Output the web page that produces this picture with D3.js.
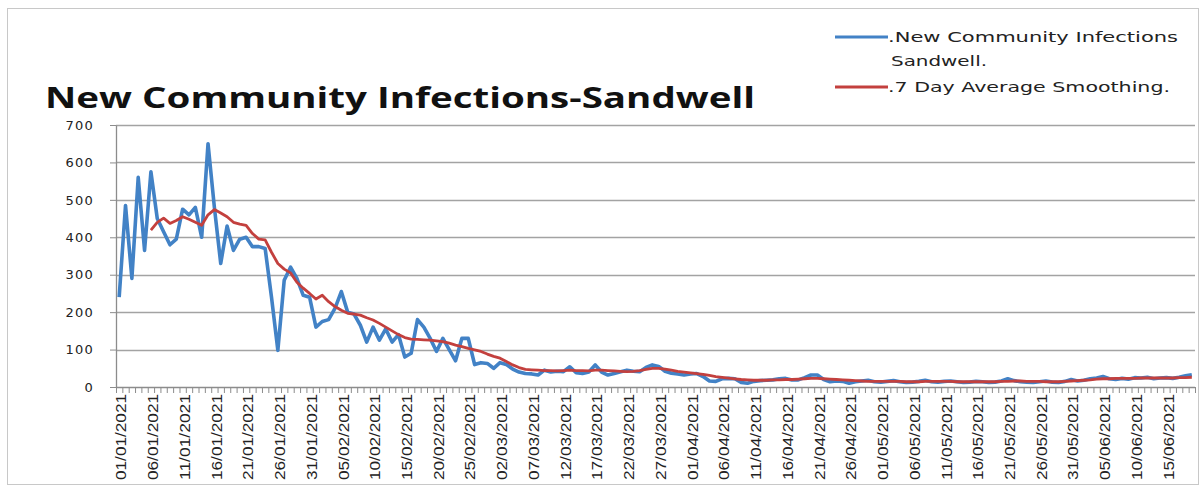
<!DOCTYPE html>
<html>
<head>
<meta charset="utf-8">
<script src="https://cdn.jsdelivr.net/npm/d3@7"></script>
<style>
  html, body { margin: 0; padding: 0; background: #fff; }
  svg { display: block; }
</style>
</head>
<body>
<svg id="chart" width="1202" height="486"></svg>
<script>
// ---------- DATA ----------
const startDate = "2021-01-01";
const dayCount = 170;
const title = "New Community Infections-Sandwell";
const seriesNames = [".New Community Infections", "Sandwell.", ".7 Day Average Smoothing."];
const yTicks = [0, 100, 200, 300, 400, 500, 600, 700];

const dailyInfections = [
  240,485,290,560,365,575,450,415,380,395,
  475,460,480,400,650,480,330,430,365,395,
  400,375,375,370,240,98,285,320,290,245,
  240,160,175,180,210,255,200,195,165,120,
  160,125,155,120,140,80,90,180,160,130,
  95,130,100,70,130,130,60,65,63,50,
  65,60,48,40,36,35,32,45,40,42,
  41,54,38,36,40,59,40,32,36,41,
  45,42,41,52,59,55,42,37,35,32,
  35,36,28,16,15,22,23,22,12,10,
  15,17,18,19,22,23,19,19,25,32,
  32,20,14,16,15,10,14,16,18,14,
  13,15,17,14,12,13,15,18,14,13,
  15,16,14,12,13,15,14,12,13,16,
  22,17,14,13,12,14,16,13,12,15,
  20,16,18,22,24,28,22,20,23,21,
  25,24,26,22,24,25,23,26,30,33
];

const sevenDayAverage = [
  null,null,null,null,null,419,440,451,437,445,
  455,448,440,432,460,474,465,455,440,435,
  432,410,395,393,360,330,315,305,280,264,
  250,235,245,228,215,205,197,195,192,185,
  179,170,160,150,140,132,128,127,126,125,
  123,121,117,112,108,103,99,95,88,82,
  77,68,59,52,47,46,45,44,44,43,
  44,45,44,44,43,45,45,44,43,42,
  41,42,44,47,50,50,48,45,42,40,
  38,36,34,31,28,26,24,22,20,19,
  18,18,18,19,19,20,20,21,22,23,
  23,22,21,20,19,18,17,16,15,15,
  15,15,15,15,14,14,14,15,15,15,
  15,15,14,14,14,14,14,14,14,15,
  15,16,16,15,15,15,14,14,14,15,
  16,17,18,19,21,22,22,23,23,23,
  23,24,24,24,24,24,24,25,25,26
];

// ---------- CHART ----------
(function () {
const svg = d3.select("#chart");
const blueCol = "#4282c6", redCol = "#c3403e", gridCol = "#a3a3a3";

const parse = d3.timeParse("%Y-%m-%d");
const fmt = d3.timeFormat("%d/%m/%Y");
const t0 = parse(startDate);
const dates = d3.range(dayCount).map(i => d3.timeDay.offset(t0, i));
const labels = dates.map(fmt);

const pLeft = 116, pRight = 1195, pTop = 125, pBottom = 387;
const x = d3.scaleBand().domain(d3.range(dayCount)).range([pLeft, pRight]).padding(0);
const xc = i => x(i) + x.bandwidth() / 2;
const y = d3.scaleLinear().domain([0, 700]).range([pBottom, pTop]);

// frame
svg.append("rect").attr("x", 7.5).attr("y", 8.5).attr("width", 1191).attr("height", 476)
  .attr("fill", "none").attr("stroke", "#c8c8c8").attr("stroke-width", 1);

// gridlines
svg.append("g").selectAll("line").data(yTicks.filter(d => d > 0)).join("line")
  .attr("x1", pLeft).attr("x2", pRight)
  .attr("y1", d => Math.round(y(d)) + 0.5).attr("y2", d => Math.round(y(d)) + 0.5)
  .attr("stroke", gridCol).attr("stroke-width", 1.7);

// y axis
const yAxis = svg.append("g").attr("transform", `translate(${pLeft},0)`)
  .call(d3.axisLeft(y).tickValues(yTicks).tickSize(6).tickPadding(16).tickSizeOuter(0));
yAxis.select(".domain").attr("stroke", "#8c8c8c").attr("stroke-width", 1.3);
yAxis.selectAll(".tick line").attr("stroke", "#8c8c8c");
yAxis.selectAll(".tick text")
  .attr("font-family", "DejaVu Sans").attr("font-size", 13).attr("fill", "#222")
  .attr("letter-spacing", 1.2);

// x axis line
svg.append("line").attr("x1", pLeft).attr("x2", pRight)
  .attr("y1", pBottom + 0.5).attr("y2", pBottom + 0.5)
  .attr("stroke", "#8c8c8c").attr("stroke-width", 1.3);
// minor ticks at category boundaries
svg.append("g").selectAll("line").data(d3.range(dayCount + 1)).join("line")
  .attr("x1", i => (i < dayCount ? x(i) : pRight) + 0.5)
  .attr("x2", i => (i < dayCount ? x(i) : pRight) + 0.5)
  .attr("y1", pBottom).attr("y2", pBottom + 6)
  .attr("stroke", "#8c8c8c").attr("stroke-width", 1);
// labels every 5 days
svg.append("g").selectAll("text").data(d3.range(0, dayCount, 5)).join("text")
  .attr("transform", i => `translate(${xc(i) + 2},${pBottom + 7}) rotate(-90)`)
  .attr("dy", "0.36em")
  .attr("text-anchor", "end")
  .attr("font-family", "Liberation Sans").attr("font-size", 14.5).attr("fill", "#222")
  .attr("textLength", 86).attr("lengthAdjust", "spacingAndGlyphs")
  .text(i => labels[i]);

// lines
const line = d3.line().defined(d => d != null).x((d, i) => xc(i)).y(d => y(d));
svg.append("path").datum(dailyInfections).attr("d", line)
  .attr("fill", "none").attr("stroke", blueCol).attr("stroke-width", 3.6)
  .attr("stroke-linejoin", "round");
svg.append("path").datum(sevenDayAverage).attr("d", line)
  .attr("fill", "none").attr("stroke", redCol).attr("stroke-width", 2.8)
  .attr("stroke-linejoin", "round");

// title
svg.append("text").attr("x", 45).attr("y", 108)
  .attr("font-family", "Open Sans").attr("font-weight", 700).attr("font-size", 28)
  .attr("fill", "#111")
  .attr("textLength", 710).attr("lengthAdjust", "spacingAndGlyphs")
  .text(title);

// legend
const lg = svg.append("g");
lg.append("line").attr("x1", 835).attr("x2", 888).attr("y1", 37).attr("y2", 37)
  .attr("stroke", blueCol).attr("stroke-width", 3);
lg.append("line").attr("x1", 835).attr("x2", 888).attr("y1", 87).attr("y2", 87)
  .attr("stroke", redCol).attr("stroke-width", 3);
const legText = [
  {t: seriesNames[0], x: 888, y: 42, len: 290},
  {t: seriesNames[1], x: 891, y: 66, len: 96},
  {t: seriesNames[2], x: 888, y: 92, len: 282}
];
lg.selectAll("text").data(legText).join("text")
  .attr("x", d => d.x).attr("y", d => d.y)
  .attr("font-family", "DejaVu Sans").attr("font-size", 14.5).attr("fill", "#222")
  .attr("textLength", d => d.len).attr("lengthAdjust", "spacingAndGlyphs")
  .text(d => d.t);
})();
</script>
</body>
</html>
